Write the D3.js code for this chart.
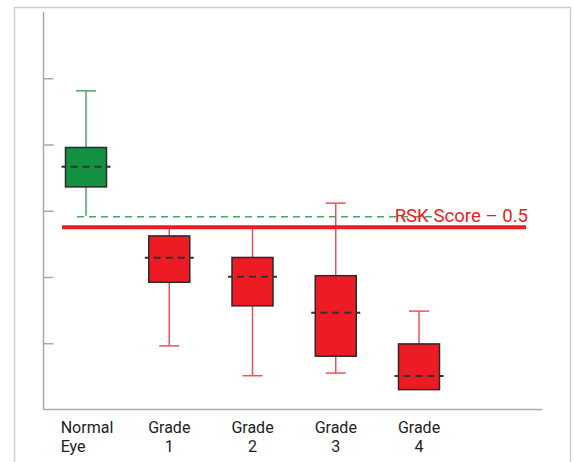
<!DOCTYPE html>
<html>
<head>
<meta charset="utf-8">
<script src="https://cdn.jsdelivr.net/npm/d3@7"></script>
<style>
  html, body { margin: 0; padding: 0; background: #fff; }
  svg { display: block; font-family: Roboto, "Noto Sans", sans-serif; }
</style>
</head>
<body>
<svg id="chart" width="574" height="462"></svg>
<script>
// Category labels (one entry per line of text)
const categories = ["Normal Eye", "Grade 1", "Grade 2", "Grade 3", "Grade 4"];
const labelLines = [["Normal", "Eye"], ["Grade", "1"], ["Grade", "2"], ["Grade", "3"], ["Grade", "4"]];

// Box statistics per group (RSK score units)
const whiskerHigh = [0.912, 0.500, 0.500, 0.573, 0.247];
const q3Values    = [0.741, 0.474, 0.409, 0.354, 0.148];
const medians     = [0.683, 0.408, 0.351, 0.242, 0.051];
const q1Values    = [0.622, 0.334, 0.263, 0.111, 0.010];
const whiskerLow  = [0.535, 0.142, 0.052, 0.060, 0.010];
const isNormal    = [true, false, false, false, false];

// Reference threshold and unlabeled y ticks
const threshold = 0.5;
const thresholdLabel = "RSK Score \u2013 0.5";
const yTicks = [0.15, 0.35, 0.55, 0.75, 0.95];
const yDomain = [-0.05, 1.15];

const svg = d3.select("#chart");

const plot = { left: 43.5, right: 542, top: 12, bottom: 409.5 };

const y = d3.scaleLinear().domain(yDomain).range([plot.bottom, plot.top]);
const x = d3.scalePoint().domain(categories).range([86, 419]);

const boxW = 41, capW = 20, medExtra = 4;
const green = "#129240", greenLine = "#44a966";
const red = "#ed1c24", redLine = "#f0505a";
const axisColor = "#a9a9a9";

// Outer frame
svg.append("rect")
  .attr("x", 14.5).attr("y", 7.5)
  .attr("width", 556).attr("height", 470)
  .attr("fill", "none").attr("stroke", "#cfcfcf").attr("stroke-width", 1.5);

// Y axis with inward ticks and no labels
const yAxis = svg.append("g")
  .attr("transform", `translate(${plot.left},0)`)
  .call(d3.axisLeft(y).tickValues(yTicks).tickSizeInner(-10).tickSizeOuter(0).tickFormat(""));
yAxis.select(".domain").remove();
yAxis.selectAll(".tick line").attr("stroke", axisColor).attr("stroke-width", 1.5);
svg.append("line")
  .attr("x1", plot.left).attr("x2", plot.left)
  .attr("y1", plot.top).attr("y2", plot.bottom)
  .attr("stroke", axisColor).attr("stroke-width", 1.5);

// X axis baseline
svg.append("line")
  .attr("x1", plot.left).attr("x2", plot.right)
  .attr("y1", plot.bottom).attr("y2", plot.bottom)
  .attr("stroke", axisColor).attr("stroke-width", 1.5);

// X labels
categories.forEach((c, i) => {
  const lines = labelLines[i];
  const t = svg.append("text")
    .attr("font-size", 16).attr("fill", "#222");
  lines.forEach((ln, k) => {
    t.append("tspan").attr("x", x(c)).attr("y", 433 + k * 19).text(ln);
  });
  if (i === 0) {
    // first label: lines share a left edge
    const w = d3.max(t.selectAll("tspan").nodes(), n => n.getComputedTextLength());
    t.attr("text-anchor", "start");
    t.selectAll("tspan").attr("x", x(c) - w / 2 + 1);
  } else {
    t.attr("text-anchor", "middle");
  }
});

// Lower bound of the normal group as a dashed reference
svg.append("line")
  .attr("x1", x(categories[0]) - 9).attr("x2", 433)
  .attr("y1", y(whiskerLow[0]) + 1).attr("y2", y(whiskerLow[0]) + 1)
  .attr("stroke", greenLine).attr("stroke-width", 1.5)
  .attr("stroke-dasharray", "7,5");

// Boxes
categories.forEach((c, i) => {
  const cx = x(c);
  const lineCol = isNormal[i] ? greenLine : redLine;
  const g = svg.append("g");
  // upper whisker (capped unless it runs into the threshold line)
  g.append("line")
    .attr("x1", cx).attr("x2", cx)
    .attr("y1", y(whiskerHigh[i])).attr("y2", y(q3Values[i]))
    .attr("stroke", lineCol).attr("stroke-width", 1.5);
  if (whiskerHigh[i] !== threshold) {
    g.append("line")
      .attr("x1", cx - capW / 2).attr("x2", cx + capW / 2)
      .attr("y1", y(whiskerHigh[i])).attr("y2", y(whiskerHigh[i]))
      .attr("stroke", lineCol).attr("stroke-width", 1.5);
  }
  // lower whisker
  if (whiskerLow[i] < q1Values[i]) {
    g.append("line")
      .attr("x1", cx).attr("x2", cx)
      .attr("y1", y(q1Values[i])).attr("y2", y(whiskerLow[i]))
      .attr("stroke", lineCol).attr("stroke-width", 1.5);
    if (!isNormal[i]) {
      g.append("line")
        .attr("x1", cx - capW / 2).attr("x2", cx + capW / 2)
        .attr("y1", y(whiskerLow[i])).attr("y2", y(whiskerLow[i]))
        .attr("stroke", lineCol).attr("stroke-width", 1.5);
    }
  }
  // box
  g.append("rect")
    .attr("x", cx - boxW / 2).attr("width", boxW)
    .attr("y", y(q3Values[i])).attr("height", y(q1Values[i]) - y(q3Values[i]))
    .attr("fill", isNormal[i] ? green : red)
    .attr("stroke", "#2a2a2a").attr("stroke-width", 1.5);
  // median
  g.append("line")
    .attr("x1", cx - boxW / 2 - medExtra).attr("x2", cx + boxW / 2 + medExtra)
    .attr("y1", y(medians[i])).attr("y2", y(medians[i]))
    .attr("stroke", "#333").attr("stroke-width", 2)
    .attr("stroke-dasharray", "7,5").attr("stroke-dashoffset", 3);
});

// Threshold line
svg.append("line")
  .attr("x1", 62).attr("x2", 526)
  .attr("y1", y(threshold)).attr("y2", y(threshold))
  .attr("stroke", red).attr("stroke-width", 4);

svg.append("text")
  .attr("x", 528).attr("y", y(threshold) - 5.5)
  .attr("text-anchor", "end")
  .attr("font-size", 18.6)
  .attr("fill", red)
  .text(thresholdLabel);
</script>
</body>
</html>
